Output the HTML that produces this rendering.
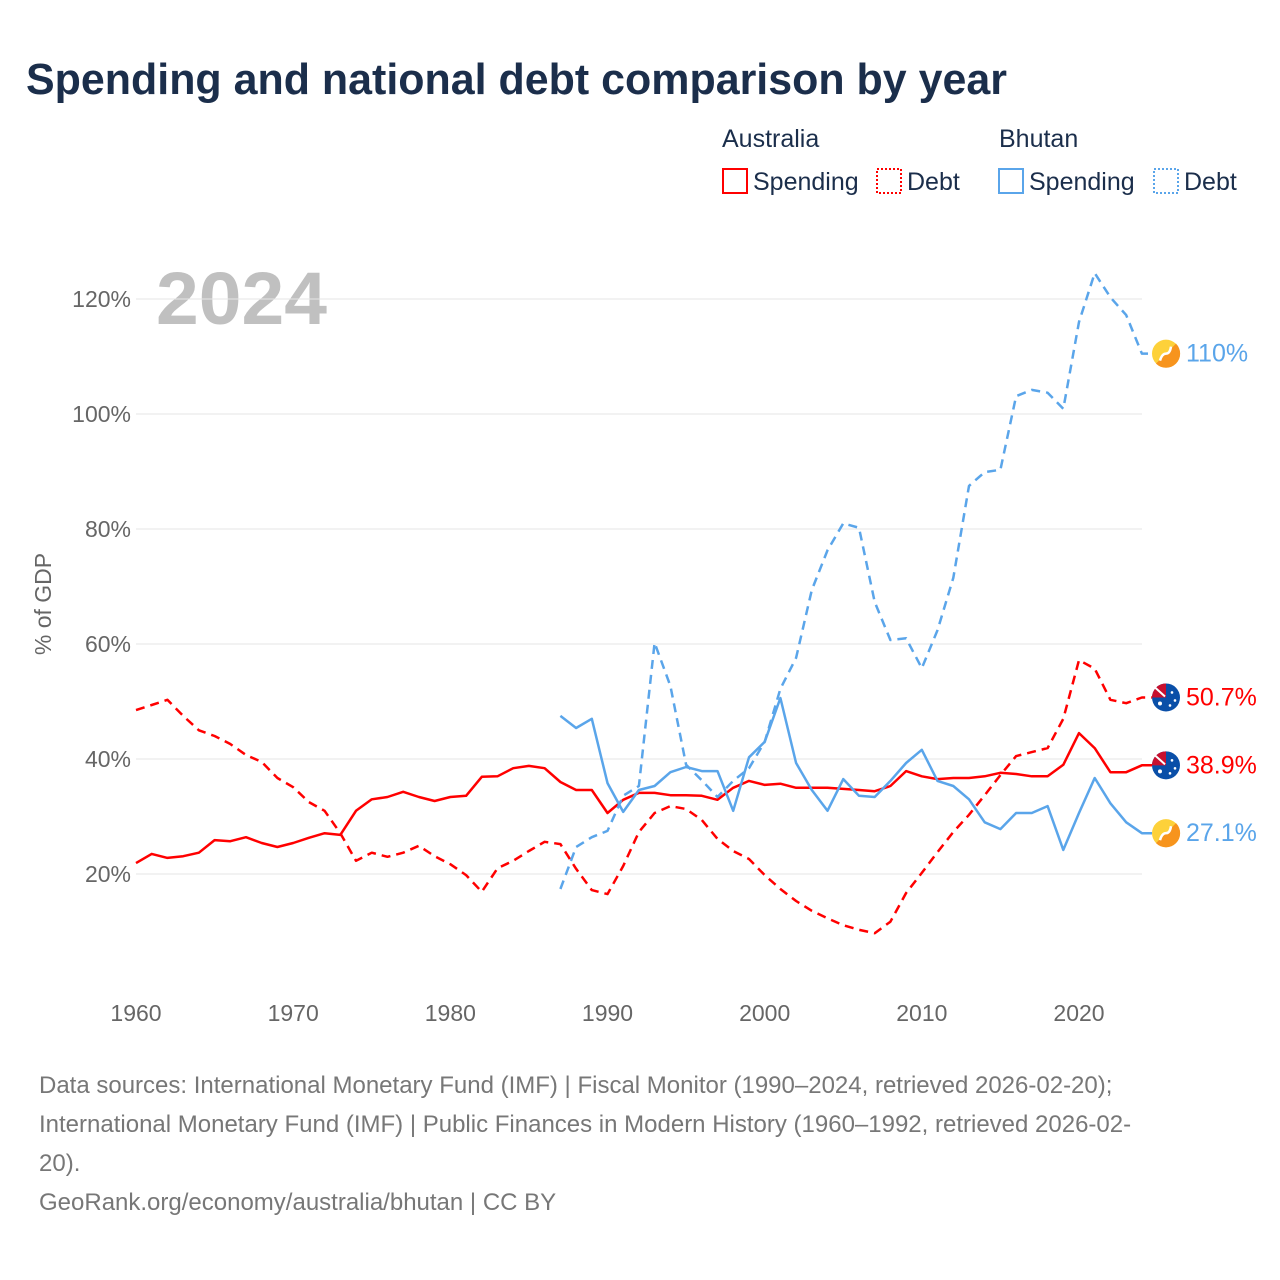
<!DOCTYPE html>
<html><head><meta charset="utf-8"><style>
body{margin:0;background:#fff;font-family:"Liberation Sans",sans-serif;}
#wrap{position:relative;width:1280px;height:1280px;overflow:hidden;}
</style></head><body>
<div id="wrap">
<svg id="chart" width="1280" height="1280" xmlns="http://www.w3.org/2000/svg">
<text x="26" y="94" font-size="44" font-weight="bold" fill="#1b2e4b" textLength="981" lengthAdjust="spacingAndGlyphs">Spending and national debt comparison by year</text>
<g font-size="25" fill="#1b2e4b">
<text x="722" y="147">Australia</text>
<text x="999" y="147">Bhutan</text>
<g><rect x="723" y="169" width="24" height="24" fill="none" stroke="#ff0000" stroke-width="2"/><text x="753" y="190">Spending</text></g>
<g><rect x="877" y="169" width="24" height="24" fill="none" stroke="#ff0000" stroke-width="2" stroke-dasharray="2,2"/><text x="907" y="190">Debt</text></g>
<g><rect x="999" y="169" width="24" height="24" fill="none" stroke="#5aa5ea" stroke-width="2"/><text x="1029" y="190">Spending</text></g>
<g><rect x="1154" y="169" width="24" height="24" fill="none" stroke="#5aa5ea" stroke-width="2" stroke-dasharray="2,2"/><text x="1184" y="190">Debt</text></g>
</g>
<text x="156" y="324" font-size="74" font-weight="bold" fill="#c0c0c0" textLength="171" lengthAdjust="spacingAndGlyphs">2024</text>
<text transform="translate(51,604) rotate(-90)" text-anchor="middle" font-size="23" fill="#666">% of GDP</text>
<g id="grid"></g><g id="series"></g><g id="ends"></g>
<g font-size="24" fill="#777">
<text x="39" y="1093">Data sources: International Monetary Fund (IMF) | Fiscal Monitor (1990–2024, retrieved 2026-02-20);</text>
<text x="39" y="1132">International Monetary Fund (IMF) | Public Finances in Modern History (1960–1992, retrieved 2026-02-</text>
<text x="39" y="1171">20).</text>
<text x="39" y="1210">GeoRank.org/economy/australia/bhutan | CC BY</text>
</g>
</svg>
</div>
<script>
const yTicks=[20,40,60,80,100,120];
const xTicks=[1960,1970,1980,1990,2000,2010,2020];
const ausSpending=[21.9,23.5,22.8,23.1,23.7,25.9,25.7,26.4,25.4,24.7,25.4,26.3,27.1,26.8,31,33,33.4,34.3,33.4,32.7,33.4,33.6,36.9,37,38.4,38.8,38.4,36,34.6,34.6,30.6,32.9,34.1,34.1,33.7,33.7,33.6,32.9,35,36.2,35.5,35.7,35,35,35,34.8,34.6,34.4,35.3,37.9,37,36.5,36.7,36.7,37,37.6,37.4,37,37,39,44.5,41.9,37.7,37.7,38.9];
const ausDebt=[48.5,49.4,50.3,47.5,45,44,42.6,40.7,39.5,36.7,35.1,32.5,31,27.1,22.3,23.7,23,23.7,24.9,23.1,21.7,19.8,16.9,21,22.3,24,25.6,25.2,20.9,17.2,16.5,21.4,27.3,30.6,31.8,31.3,29.4,26.1,24,22.6,19.8,17.4,15.3,13.6,12.3,11.1,10.3,9.7,11.7,16.7,20.2,23.8,27.3,30.3,33.7,37.2,40.5,41.2,41.9,47,57.2,55.7,50.3,49.7,50.7];
const btnSpending=[47.5,45.4,47,35.8,30.8,34.6,35.3,37.7,38.6,37.9,37.9,31,40.3,43,50.6,39.3,34.6,31,36.5,33.6,33.4,36.2,39.3,41.6,36.2,35.3,33,29,27.8,30.6,30.6,31.8,24.2,30.6,36.7,32.3,29,27.1];
const btnDebt=[17.4,24.7,26.4,27.5,33.6,35.3,60.2,52.7,39,36.3,33.4,36.2,38.4,43,52.2,57.6,69.4,76.3,81,80.2,67.3,60.7,61,55.8,62.4,71.5,87.5,89.9,90.3,103.1,104.2,103.7,100.9,116,124.5,120.3,117.2,110.5];
const NS='http://www.w3.org/2000/svg';
const xS=y=>136+(y-1960)*(1079-136)/60;
const yS=v=>989-v*5.75;
function mk(tag,attrs,parent){const e=document.createElementNS(NS,tag);for(const k in attrs)e.setAttribute(k,attrs[k]);parent.appendChild(e);return e;}
const grid=document.getElementById('grid');
yTicks.forEach(t=>{
 const l=mk('line',{x1:136,x2:1142,y1:yS(t),y2:yS(t),stroke:'#e6e6e6','stroke-width':1},grid);
 
 
 const tx=mk('text',{x:131,y:yS(t)+8,'text-anchor':'end','font-size':23,fill:'#666'},grid);
 tx.textContent=t+'%';
 
 
});
xTicks.forEach(t=>{
 const tx=mk('text',{x:xS(t),y:1021,'text-anchor':'middle','font-size':23,fill:'#666'},grid);
 tx.textContent=t;
 
 
});
const ser=document.getElementById('series');
function line(data,start,color,dash,name,endLabel,endIcon){
 const pts=data.map((v,i)=>xS(start+i).toFixed(1)+','+yS(v).toFixed(1));
 const last=data[data.length-1];
 pts.push('1152,'+yS(last).toFixed(1));
 const p=mk('polyline',{points:pts.join(' '),fill:'none',stroke:color,'stroke-width':2.5,'stroke-linejoin':'round'},ser);
 if(dash)p.setAttribute('stroke-dasharray','9,6');
 
 
 if(endLabel){
  const ends=document.getElementById('ends');
  const cy=yS(last);
  const g=mk('g',{},ends);
  
  
  if(endIcon==='aus'){
   mk('circle',{cx:1166,cy:cy,r:14,fill:'#0a4fa8'},g);
   mk('path',{d:`M1152 ${cy} A14 14 0 0 1 1166 ${cy-14} L1166 ${cy} Z`,fill:'#c8102e'},g);
   mk('path',{d:`M1155 ${cy-10} L1165 ${cy-1}`,stroke:'#fff','stroke-width':2},g);
   mk('circle',{cx:1160,cy:cy+6,r:2,fill:'#fff'},g);
   mk('circle',{cx:1172,cy:cy-5,r:1.3,fill:'#fff'},g);
   mk('circle',{cx:1175,cy:cy+3,r:1.3,fill:'#fff'},g);
   mk('circle',{cx:1170,cy:cy+8,r:1.3,fill:'#fff'},g);
  } else {
   mk('circle',{cx:1166,cy:cy,r:14,fill:'#fdd13a'},g);
   mk('path',{d:`M1176 ${cy-10} A14 14 0 0 1 1156 ${cy+10} Z`,fill:'#f7941d'},g);
   mk('path',{d:`M1160 ${cy+7} Q1162 ${cy} 1166 ${cy} Q1170 ${cy} 1171 ${cy-7}`,stroke:'#fff','stroke-width':2.5,fill:'none'},g);
  }
  const tx=mk('text',{x:1186,y:cy+8,'font-size':25,fill:color},g);
  tx.textContent=endLabel;
 }
}
line(ausDebt,1960,'#ff0000',true,'australia-debt-line','50.7%','aus');
line(ausSpending,1960,'#ff0000',false,'australia-spending-line','38.9%','aus');
line(btnDebt,1987,'#5aa5ea',true,'bhutan-debt-line','110%','btn');
line(btnSpending,1987,'#5aa5ea',false,'bhutan-spending-line','27.1%','btn');
</script>
</body></html>
